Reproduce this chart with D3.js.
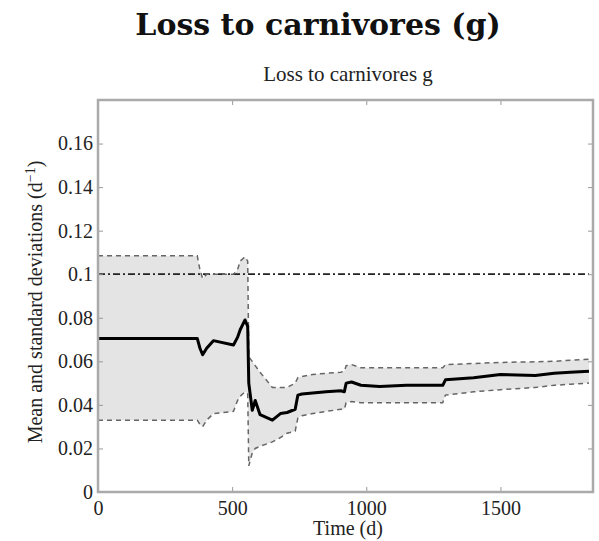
<!DOCTYPE html>
<html>
<head>
<meta charset="utf-8">
<script src="https://cdn.jsdelivr.net/npm/d3@7"></script>
<style>
  body { margin: 0; background: #fff; }
  svg { display: block; }
  .tick text { font-family: "Liberation Serif", serif; font-size: 20px; fill: #222; }
  .tick line { stroke: #999; }
  .domain { display: none; }
</style>
</head>
<body>
<svg class="chart" width="599" height="541"></svg>
<script>
// time (d)
const days = [0, 370, 380, 390, 405, 430, 505, 520, 530, 548, 558, 562, 575, 586, 604, 650, 680, 705, 735, 745, 760, 800, 850, 905, 918, 925, 945, 980, 1050, 1150, 1250, 1285, 1295, 1400, 1500, 1630, 1700, 1760, 1830]
// mean loss to carnivores (d^-1)
const meanVals = [0.0705, 0.0705, 0.066, 0.063, 0.066, 0.0695, 0.0675, 0.071, 0.0745, 0.079, 0.076, 0.05, 0.0375, 0.042, 0.0355, 0.033, 0.036, 0.0365, 0.038, 0.0445, 0.045, 0.0455, 0.046, 0.0465, 0.046, 0.05, 0.0505, 0.049, 0.0485, 0.049, 0.049, 0.049, 0.0515, 0.0525, 0.054, 0.0535, 0.0545, 0.055, 0.0555]
// mean + sd
const upperVals = [0.1085, 0.1085, 0.102, 0.098, 0.1, 0.1, 0.1, 0.102, 0.106, 0.108, 0.106, 0.062, 0.06, 0.058, 0.055, 0.048, 0.048, 0.048, 0.05, 0.0525, 0.053, 0.054, 0.0545, 0.055, 0.0555, 0.058, 0.0585, 0.057, 0.057, 0.057, 0.057, 0.057, 0.0585, 0.059, 0.0595, 0.0598, 0.06, 0.0605, 0.061]
// mean - sd
const lowerVals = [0.033, 0.033, 0.031, 0.03, 0.033, 0.036, 0.037, 0.042, 0.044, 0.046, 0.045, 0.012, 0.018, 0.02, 0.021, 0.023, 0.025, 0.027, 0.028, 0.034, 0.035, 0.036, 0.037, 0.038, 0.038, 0.041, 0.0415, 0.041, 0.041, 0.041, 0.041, 0.041, 0.0445, 0.046, 0.047, 0.048, 0.049, 0.0495, 0.05]
// reference (prior) value
const refValue = 0.1

const xTicks = [0, 500, 1000, 1500]
const yTicks = [0, 0.02, 0.04, 0.06, 0.08, 0.1, 0.12, 0.14, 0.16]

const svg = d3.select("svg.chart")
const plotLeft = 98, plotRight = 593, plotTop = 100, plotBottom = 492

const x = d3.scaleLinear().domain([0, 1845]).range([plotLeft, plotRight])
const y = d3.scaleLinear().domain([0, 0.18]).range([plotBottom, plotTop])

const rows = days.map((t, i) => ({ t: t, m: meanVals[i], hi: upperVals[i], lo: lowerVals[i] }))

// shaded band
svg.append("path")
  .datum(rows)
  .attr("fill", "#e4e4e4")
  .attr("d", d3.area().x(d => x(d.t)).y0(d => y(d.lo)).y1(d => y(d.hi)))

// reference line
svg.append("line")
  .attr("x1", x(0))
  .attr("x2", x(days[days.length - 1]))
  .attr("y1", y(refValue))
  .attr("y2", y(refValue))
  .attr("stroke", "#222")
  .attr("stroke-width", 1.8)
  .attr("stroke-dasharray", "7,3,2,3")

// sd bounds
;["hi", "lo"].forEach(k => {
  svg.append("path")
    .datum(rows)
    .attr("fill", "none")
    .attr("stroke", "#666")
    .attr("stroke-width", 1.5)
    .attr("stroke-dasharray", "5,4")
    .attr("d", d3.line().x(d => x(d.t)).y(d => y(d[k])))
})

// mean
svg.append("path")
  .datum(rows)
  .attr("fill", "none")
  .attr("stroke", "#000")
  .attr("stroke-width", 3)
  .attr("stroke-linejoin", "round")
  .attr("d", d3.line().x(d => x(d.t)).y(d => y(d.m)))

// axes, ticks inward
svg.append("g")
  .attr("transform", `translate(0,${plotBottom})`)
  .call(d3.axisBottom(x).tickValues(xTicks).tickSize(-5).tickPadding(9).tickFormat(d3.format("d")))
svg.append("g")
  .attr("transform", `translate(0,${plotTop})`)
  .call(d3.axisTop(x).tickValues(xTicks).tickSize(-5).tickFormat(""))
svg.append("g")
  .attr("transform", `translate(${plotLeft},0)`)
  .call(d3.axisLeft(y).tickValues(yTicks).tickSize(-5).tickPadding(5).tickFormat(d3.format("~g")))
svg.append("g")
  .attr("transform", `translate(${plotRight},0)`)
  .call(d3.axisRight(y).tickValues(yTicks).tickSize(-5).tickFormat(""))

// frame
svg.append("rect")
  .attr("x", plotLeft)
  .attr("y", plotTop)
  .attr("width", plotRight - plotLeft)
  .attr("height", plotBottom - plotTop)
  .attr("fill", "none")
  .attr("stroke", "#aaa")
  .attr("stroke-width", 2.5)

// titles
svg.append("text")
  .attr("x", 318)
  .attr("y", 35)
  .attr("text-anchor", "middle")
  .attr("font-family", "DejaVu Serif, serif")
  .attr("font-weight", "bold")
  .attr("font-size", 30)
  .attr("fill", "#111")
  .text("Loss to carnivores (g)")

svg.append("text")
  .attr("x", 348)
  .attr("y", 81)
  .attr("text-anchor", "middle")
  .attr("font-family", "Liberation Serif, serif")
  .attr("font-size", 21)
  .attr("fill", "#222")
  .text("Loss to carnivores g")

svg.append("text")
  .attr("x", 348)
  .attr("y", 535)
  .attr("text-anchor", "middle")
  .attr("font-family", "Liberation Serif, serif")
  .attr("font-size", 20)
  .attr("fill", "#222")
  .text("Time (d)")

const yLab = svg.append("text")
  .attr("transform", "translate(42,302) rotate(-90)")
  .attr("text-anchor", "middle")
  .attr("font-family", "Liberation Serif, serif")
  .attr("font-size", 20)
  .attr("fill", "#222")
yLab.append("tspan").text("Mean and standard deviations (d")
yLab.append("tspan").attr("dy", -7).attr("font-size", 14).text("−1")
yLab.append("tspan").attr("dy", 7).text(")")
</script>
</body>
</html>
